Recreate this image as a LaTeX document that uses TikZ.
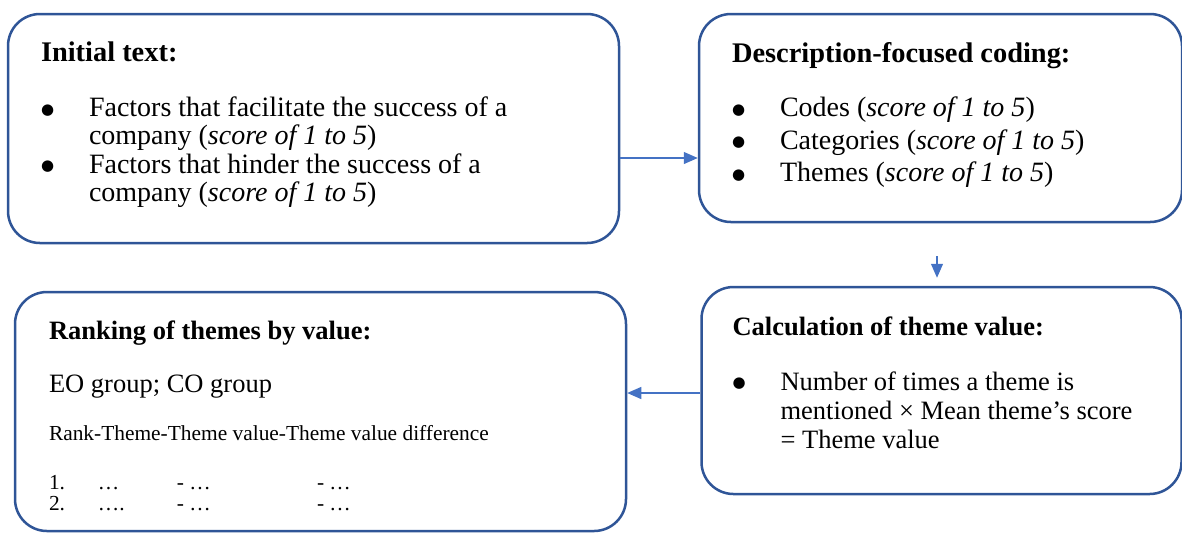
\documentclass[tikz,border=0pt]{standalone}
\usepackage{fontspec}
\setmainfont{Liberation Serif}
\newfontfamily\dotfont{DejaVu Sans}
\usetikzlibrary{positioning,arrows.meta}

\definecolor{boxblue}{HTML}{2F5597}
\definecolor{arrowblue}{HTML}{4472C4}

\tikzset{
	stagebox/.style={draw=boxblue, line width=1.25pt, rounded corners=16pt, align=flush left, inner ysep=0pt},
	flow/.style={draw=arrowblue, line width=0.6pt, -{Triangle[length=7pt,width=6pt]}}
}
\newcommand{\headfont}{\fontsize{14.2}{14.5}\selectfont\bfseries}
\newcommand{\pointmark}[1]{\makebox[24pt][l]{\raisebox{1.2pt}{\dotfont\fontsize{7.5}{7.5}\selectfont ●}}#1}
\newcommand{\pointrest}[1]{\hspace*{24pt}#1}

\begin{document}
\begin{tikzpicture}[x=0.5pt,y=-0.5pt]
		\useasboundingbox (0,0) rectangle (1182,532);
		
		\node[stagebox, inner xsep=16.5pt, text width=272.5pt, minimum height=114.5pt,
		font=\fontsize{14}{14.2}\selectfont] (init) at (313.5,128.5)
		{{\headfont Initial text:}\\[13.5pt]
		\pointmark{Factors that facilitate the success of a}\\
		\pointrest{company (\textit{score of 1 to 5})}\\
		\pointmark{Factors that hinder the success of a}\\
		\pointrest{company (\textit{score of 1 to 5})\rule[-7pt]{0pt}{7pt}}};
		
		\node[stagebox, inner xsep=16.5pt, text width=208.5pt, minimum height=104pt,
		font=\fontsize{14}{16.25}\selectfont] (desc) at (940.5,118)
		{{\headfont Description-focused coding:}\\[10.75pt]
		\pointmark{Codes (\textit{score of 1 to 5})}\\
		\pointmark{Categories (\textit{score of 1 to 5})}\\
		\pointmark{Themes (\textit{score of 1 to 5})\rule[-6pt]{0pt}{6pt}}};
		
		\node[stagebox, inner xsep=15.5pt, text width=209pt, minimum height=103.5pt,
		font=\fontsize{13.25}{14.5}\selectfont] (calc) at (941.5,390.5)
		{{\bfseries Calculation of theme value:}\\[13pt]
		\pointmark{Number of times a theme is}\\
		\pointrest{mentioned × Mean theme’s score}\\
		\pointrest{= Theme value\rule[-8pt]{0pt}{8pt}}};
		
		\node[stagebox, inner xsep=17pt, text width=271.5pt, minimum height=119.5pt,
		font=\fontsize{13.25}{14.5}\selectfont] (rank) at (320.5,411.5)
		{{\bfseries\rule{0pt}{14pt}Ranking of themes by value:}\\[12pt]
		EO group; CO group\\[9.5pt]
		{\fontsize{10.7}{12}\selectfont Rank-Theme-Theme value-Theme value difference}\\[10pt]
		{\fontsize{10.7}{12}\selectfont\makebox[24.5pt][l]{1.}\makebox[39.5pt][l]{…}\makebox[70pt][l]{- …}- …}\\[-4pt]
		{\fontsize{10.7}{12}\selectfont\makebox[24.5pt][l]{2.}\makebox[39.5pt][l]{….}\makebox[70pt][l]{- …}- …}};
		
		\draw[flow] (init.east |- 0,158) -- (desc.west |- 0,158);
		\draw[flow] ([xshift=-1.75pt,yshift=-16.5pt]desc.south) -- ([xshift=-2.25pt,yshift=4pt]calc.north);
		\draw[flow] (calc.west |- 0,393) -- (rank.east |- 0,393);
	\end{tikzpicture}
\end{document}
